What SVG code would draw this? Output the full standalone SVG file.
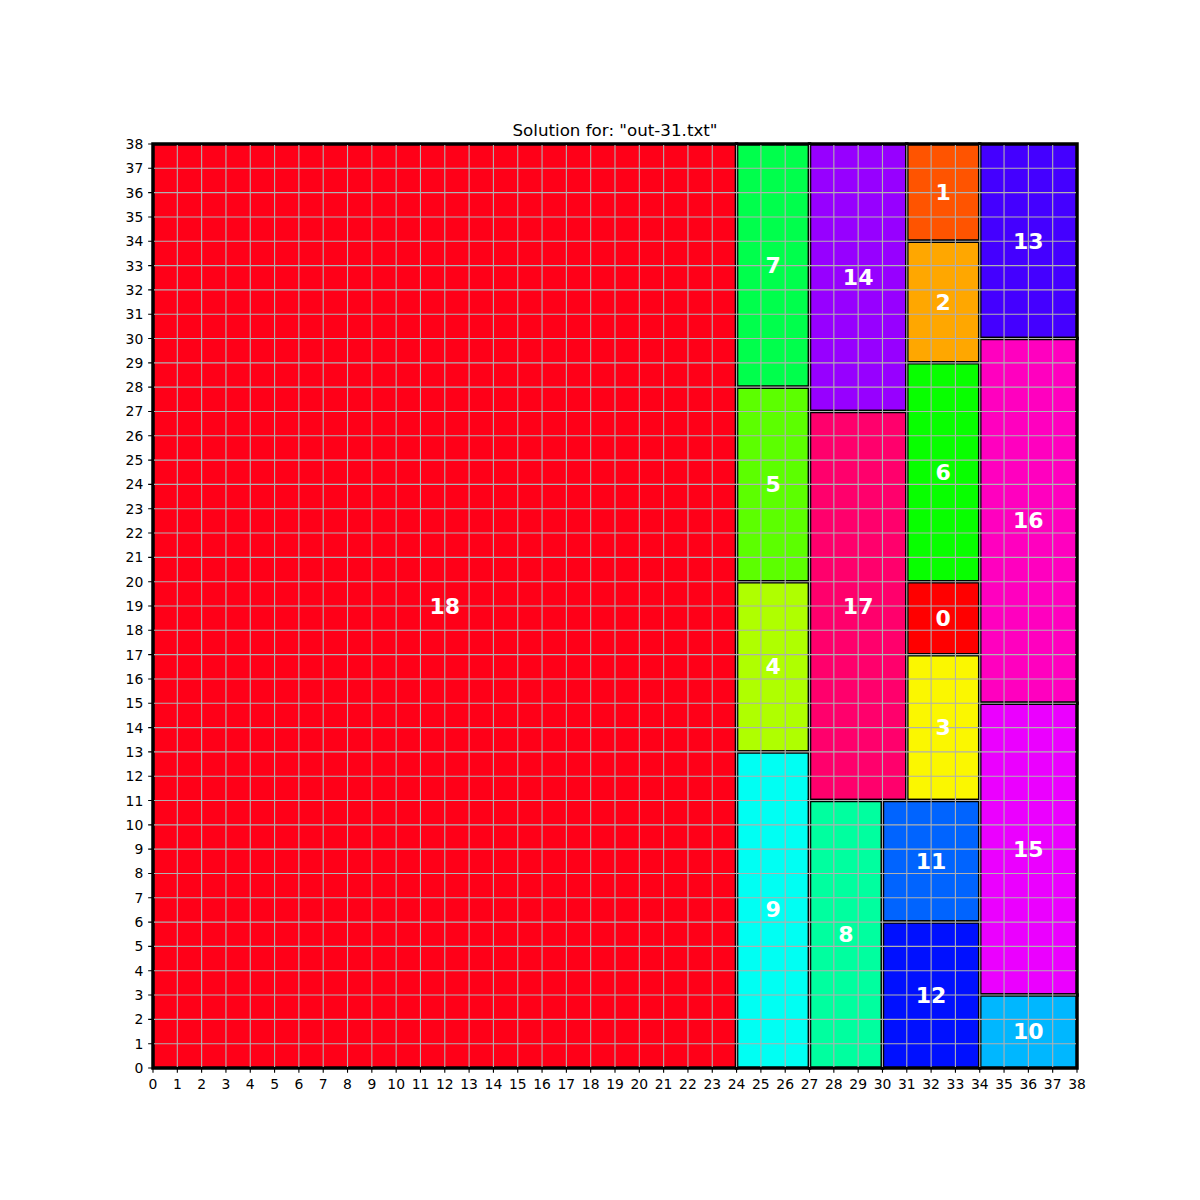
<svg xmlns="http://www.w3.org/2000/svg" width="1200" height="1200" viewBox="0 0 1200 1200">
<style>
.blk rect{stroke:#000;stroke-width:3.5;vector-effect:non-scaling-stroke}
.lbl{font-family:"DejaVu Sans",sans-serif;font-weight:bold;font-size:22px;fill:#fff;text-anchor:middle;dominant-baseline:central}
.tx{font-family:"DejaVu Sans",sans-serif;font-size:13.9px;fill:#000;text-anchor:middle}
.ty{font-family:"DejaVu Sans",sans-serif;font-size:13.9px;fill:#000;text-anchor:end}
.grid{fill:none;stroke:#b0b0b0;stroke-width:1.1;vector-effect:non-scaling-stroke}
.tick{fill:none;stroke:#000;stroke-width:1.1;vector-effect:non-scaling-stroke}
</style>
<rect width="1200" height="1200" fill="#fff"/>
<text x="615" y="136" font-family="DejaVu Sans, sans-serif" font-size="16.7" text-anchor="middle">Solution for: "out-31.txt"</text>
<g id="blocks" class="blk" transform="translate(153 1068) scale(24.3158 -24.3158)">
<g id="node-18"><rect x="0" y="0" width="24" height="38" fill="#ff0018"/></g>
<g id="node-7"><rect x="24" y="28" width="3" height="10" fill="#00ff4c"/></g>
<g id="node-5"><rect x="24" y="20" width="3" height="8" fill="#5cff00"/></g>
<g id="node-4"><rect x="24" y="13" width="3" height="7" fill="#afff00"/></g>
<g id="node-9"><rect x="24" y="0" width="3" height="13" fill="#00fff3"/></g>
<g id="node-14"><rect x="27" y="27" width="4" height="11" fill="#9700ff"/></g>
<g id="node-17"><rect x="27" y="11" width="4" height="16" fill="#ff006c"/></g>
<g id="node-8"><rect x="27" y="0" width="3" height="11" fill="#00ff9f"/></g>
<g id="node-1"><rect x="31" y="34" width="3" height="4" fill="#ff5400"/></g>
<g id="node-2"><rect x="31" y="29" width="3" height="5" fill="#ffa700"/></g>
<g id="node-6"><rect x="31" y="20" width="3" height="9" fill="#08ff00"/></g>
<g id="node-0"><rect x="31" y="17" width="3" height="3" fill="#ff0000"/></g>
<g id="node-3"><rect x="31" y="11" width="3" height="6" fill="#fbf700"/></g>
<g id="node-11"><rect x="30" y="6" width="4" height="5" fill="#0064ff"/></g>
<g id="node-12"><rect x="30" y="0" width="4" height="6" fill="#0010ff"/></g>
<g id="node-13"><rect x="34" y="30" width="4" height="8" fill="#4400ff"/></g>
<g id="node-16"><rect x="34" y="15" width="4" height="15" fill="#ff00bf"/></g>
<g id="node-15"><rect x="34" y="3" width="4" height="12" fill="#eb00ff"/></g>
<g id="node-10"><rect x="34" y="0" width="4" height="3" fill="#00b7ff"/></g>
</g>
<g id="grid" transform="translate(153 1068) scale(24.3158 -24.3158)">
<path class="grid" d="M0 0V38M1 0V38M2 0V38M3 0V38M4 0V38M5 0V38M6 0V38M7 0V38M8 0V38M9 0V38M10 0V38M11 0V38M12 0V38M13 0V38M14 0V38M15 0V38M16 0V38M17 0V38M18 0V38M19 0V38M20 0V38M21 0V38M22 0V38M23 0V38M24 0V38M25 0V38M26 0V38M27 0V38M28 0V38M29 0V38M30 0V38M31 0V38M32 0V38M33 0V38M34 0V38M35 0V38M36 0V38M37 0V38M38 0V38M0 0H38M0 1H38M0 2H38M0 3H38M0 4H38M0 5H38M0 6H38M0 7H38M0 8H38M0 9H38M0 10H38M0 11H38M0 12H38M0 13H38M0 14H38M0 15H38M0 16H38M0 17H38M0 18H38M0 19H38M0 20H38M0 21H38M0 22H38M0 23H38M0 24H38M0 25H38M0 26H38M0 27H38M0 28H38M0 29H38M0 30H38M0 31H38M0 32H38M0 33H38M0 34H38M0 35H38M0 36H38M0 37H38M0 38H38"/>
<rect class="tick" x="0" y="0" width="38" height="38" style="stroke-width:2"/>
<path class="tick" d="M0 0V-0.2M1 0V-0.2M2 0V-0.2M3 0V-0.2M4 0V-0.2M5 0V-0.2M6 0V-0.2M7 0V-0.2M8 0V-0.2M9 0V-0.2M10 0V-0.2M11 0V-0.2M12 0V-0.2M13 0V-0.2M14 0V-0.2M15 0V-0.2M16 0V-0.2M17 0V-0.2M18 0V-0.2M19 0V-0.2M20 0V-0.2M21 0V-0.2M22 0V-0.2M23 0V-0.2M24 0V-0.2M25 0V-0.2M26 0V-0.2M27 0V-0.2M28 0V-0.2M29 0V-0.2M30 0V-0.2M31 0V-0.2M32 0V-0.2M33 0V-0.2M34 0V-0.2M35 0V-0.2M36 0V-0.2M37 0V-0.2M38 0V-0.2M0 0H-0.2M0 1H-0.2M0 2H-0.2M0 3H-0.2M0 4H-0.2M0 5H-0.2M0 6H-0.2M0 7H-0.2M0 8H-0.2M0 9H-0.2M0 10H-0.2M0 11H-0.2M0 12H-0.2M0 13H-0.2M0 14H-0.2M0 15H-0.2M0 16H-0.2M0 17H-0.2M0 18H-0.2M0 19H-0.2M0 20H-0.2M0 21H-0.2M0 22H-0.2M0 23H-0.2M0 24H-0.2M0 25H-0.2M0 26H-0.2M0 27H-0.2M0 28H-0.2M0 29H-0.2M0 30H-0.2M0 31H-0.2M0 32H-0.2M0 33H-0.2M0 34H-0.2M0 35H-0.2M0 36H-0.2M0 37H-0.2M0 38H-0.2"/>
</g>
<g id="labels">
<text class="lbl" x="943.26" y="618.16">0</text>
<text class="lbl" x="943.26" y="192.63">1</text>
<text class="lbl" x="943.26" y="302.05">2</text>
<text class="lbl" x="943.26" y="727.58">3</text>
<text class="lbl" x="773.05" y="666.79">4</text>
<text class="lbl" x="773.05" y="484.42">5</text>
<text class="lbl" x="943.26" y="472.26">6</text>
<text class="lbl" x="773.05" y="265.58">7</text>
<text class="lbl" x="846" y="934.26">8</text>
<text class="lbl" x="773.05" y="909.95">9</text>
<text class="lbl" x="1028.37" y="1031.53">10</text>
<text class="lbl" x="931.11" y="861.32">11</text>
<text class="lbl" x="931.11" y="995.05">12</text>
<text class="lbl" x="1028.37" y="241.26">13</text>
<text class="lbl" x="858.16" y="277.74">14</text>
<text class="lbl" x="1028.37" y="849.16">15</text>
<text class="lbl" x="1028.37" y="520.89">16</text>
<text class="lbl" x="858.16" y="606">17</text>
<text class="lbl" x="444.79" y="606">18</text>
</g>
<g id="xticks" class="tx">
<text x="153" y="1089">0</text><text x="177.32" y="1089">1</text><text x="201.63" y="1089">2</text><text x="225.95" y="1089">3</text><text x="250.26" y="1089">4</text><text x="274.58" y="1089">5</text><text x="298.89" y="1089">6</text><text x="323.21" y="1089">7</text><text x="347.53" y="1089">8</text><text x="371.84" y="1089">9</text><text x="396.16" y="1089">10</text><text x="420.47" y="1089">11</text><text x="444.79" y="1089">12</text><text x="469.11" y="1089">13</text><text x="493.42" y="1089">14</text><text x="517.74" y="1089">15</text><text x="542.05" y="1089">16</text><text x="566.37" y="1089">17</text><text x="590.68" y="1089">18</text><text x="615" y="1089">19</text><text x="639.32" y="1089">20</text><text x="663.63" y="1089">21</text><text x="687.95" y="1089">22</text><text x="712.26" y="1089">23</text><text x="736.58" y="1089">24</text><text x="760.89" y="1089">25</text><text x="785.21" y="1089">26</text><text x="809.53" y="1089">27</text><text x="833.84" y="1089">28</text><text x="858.16" y="1089">29</text><text x="882.47" y="1089">30</text><text x="906.79" y="1089">31</text><text x="931.11" y="1089">32</text><text x="955.42" y="1089">33</text><text x="979.74" y="1089">34</text><text x="1004.05" y="1089">35</text><text x="1028.37" y="1089">36</text><text x="1052.68" y="1089">37</text><text x="1077" y="1089">38</text>
</g>
<g id="yticks" class="ty">
<text x="143.3" y="1073">0</text><text x="143.3" y="1048.68">1</text><text x="143.3" y="1024.37">2</text><text x="143.3" y="1000.05">3</text><text x="143.3" y="975.74">4</text><text x="143.3" y="951.42">5</text><text x="143.3" y="927.11">6</text><text x="143.3" y="902.79">7</text><text x="143.3" y="878.47">8</text><text x="143.3" y="854.16">9</text><text x="143.3" y="829.84">10</text><text x="143.3" y="805.53">11</text><text x="143.3" y="781.21">12</text><text x="143.3" y="756.89">13</text><text x="143.3" y="732.58">14</text><text x="143.3" y="708.26">15</text><text x="143.3" y="683.95">16</text><text x="143.3" y="659.63">17</text><text x="143.3" y="635.32">18</text><text x="143.3" y="611">19</text><text x="143.3" y="586.68">20</text><text x="143.3" y="562.37">21</text><text x="143.3" y="538.05">22</text><text x="143.3" y="513.74">23</text><text x="143.3" y="489.42">24</text><text x="143.3" y="465.11">25</text><text x="143.3" y="440.79">26</text><text x="143.3" y="416.47">27</text><text x="143.3" y="392.16">28</text><text x="143.3" y="367.84">29</text><text x="143.3" y="343.53">30</text><text x="143.3" y="319.21">31</text><text x="143.3" y="294.89">32</text><text x="143.3" y="270.58">33</text><text x="143.3" y="246.26">34</text><text x="143.3" y="221.95">35</text><text x="143.3" y="197.63">36</text><text x="143.3" y="173.32">37</text><text x="143.3" y="149">38</text>
</g>
</svg>
